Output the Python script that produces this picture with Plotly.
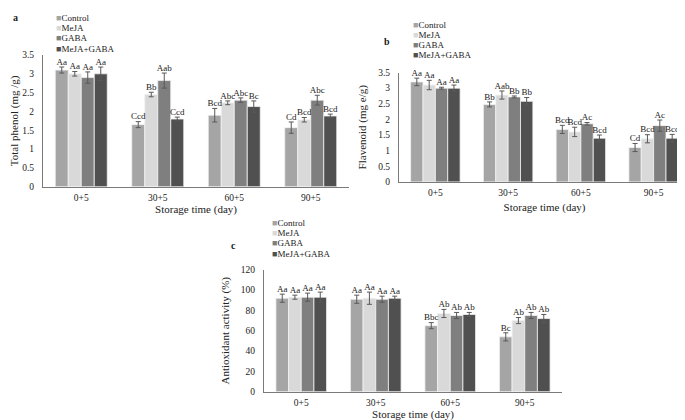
import plotly.graph_objects as go

# storage times and treatments
days = ["0+5", "30+5", "60+5", "90+5"]
treatments = ["Control", "MeJA", "GABA", "MeJA+GABA"]
colors = ["#a5a5a5", "#d9d9d9", "#7f7f7f", "#505050"]

# a - total phenol (mg/g)
phenol = {
    "Control": [3.1, 1.65, 1.9, 1.57],
    "MeJA": [3.0, 2.45, 2.23, 1.78],
    "GABA": [2.9, 2.82, 2.3, 2.3],
    "MeJA+GABA": [3.0, 1.8, 2.13, 1.88],
}
phenol_err = {
    "Control": [0.08, 0.08, 0.18, 0.15],
    "MeJA": [0.06, 0.06, 0.05, 0.06],
    "GABA": [0.15, 0.2, 0.06, 0.13],
    "MeJA+GABA": [0.18, 0.05, 0.15, 0.05],
}
phenol_lbl = {
    "Control": ["Aa", "Ccd", "Bcd", "Cd"],
    "MeJA": ["Aa", "Bb", "Abc", "Bcd"],
    "GABA": ["Aa", "Aab", "Abc", "Abc"],
    "MeJA+GABA": ["Aa", "Ccd", "Bc", "Bcd"],
}

# b - flavonoid (mg e/g)
flav = {
    "Control": [3.2, 2.48, 1.68, 1.1],
    "MeJA": [3.1, 2.78, 1.6, 1.38],
    "GABA": [3.0, 2.72, 1.86, 1.8],
    "MeJA+GABA": [3.0, 2.58, 1.4, 1.4],
}
flav_err = {
    "Control": [0.12, 0.08, 0.13, 0.13],
    "MeJA": [0.15, 0.13, 0.15, 0.13],
    "GABA": [0.03, 0.03, 0.04, 0.18],
    "MeJA+GABA": [0.1, 0.12, 0.1, 0.12],
}
flav_lbl = {
    "Control": ["Aa", "Bb", "Bcd", "Cd"],
    "MeJA": ["Aa", "Aab", "Bcd", "Bcd"],
    "GABA": ["Aa", "Bb", "Ac", "Ac"],
    "MeJA+GABA": ["Aa", "Bb", "Bcd", "Bcd"],
}

# c - antioxidant activity (%)
antiox = {
    "Control": [92, 91, 65, 54],
    "MeJA": [93, 92, 77, 70],
    "GABA": [93, 91, 75, 75],
    "MeJA+GABA": [93, 92, 76, 72],
}
antiox_err = {
    "Control": [4, 4, 3, 4],
    "MeJA": [2, 6, 4, 3],
    "GABA": [4, 3, 3, 3],
    "MeJA+GABA": [5, 2, 2, 4],
}
antiox_lbl = {
    "Control": ["Aa", "Aa", "Bbc", "Bc"],
    "MeJA": ["Aa", "Aa", "Ab", "Ab"],
    "GABA": ["Aa", "Aa", "Ab", "Ab"],
    "MeJA+GABA": ["Aa", "Aa", "Ab", "Ab"],
}

FONT = "Liberation Serif, Times New Roman, serif"
W, H = 685, 420
INK = "#222222"

fig = go.Figure()

panels = [
    ("x", "y", phenol, phenol_err, phenol_lbl),
    ("x2", "y2", flav, flav_err, flav_lbl),
    ("x3", "y3", antiox, antiox_err, antiox_lbl),
]

for xa, ya, vals, errs, lbls in panels:
    for name, col in zip(treatments, colors):
        fig.add_trace(go.Bar(
            x=days, y=vals[name], name=name, xaxis=xa, yaxis=ya,
            offsetgroup=name, cliponaxis=False,
            marker={"color": col, "line": {"color": "#f2f2f2", "width": 0.8}},
            error_y={"type": "data", "array": errs[name], "color": "#595959",
                     "thickness": 1, "width": 2.5},
            showlegend=False, hoverinfo="skip",
        ))
    # significance letters sit just above the error bar
    for name in treatments:
        fig.add_trace(go.Scatter(
            x=days, y=[v + e for v, e in zip(vals[name], errs[name])],
            text=lbls[name], mode="text", textposition="top center",
            textfont={"family": FONT, "size": 9, "color": INK},
            offsetgroup=name, xaxis=xa, yaxis=ya, cliponaxis=False,
            showlegend=False, hoverinfo="skip",
        ))


def px(v):
    return v / W


def py(v):
    return 1 - v / H


tick_font = {"family": FONT, "size": 9.5, "color": INK}
title_font = {"family": FONT, "size": 11, "color": INK}


def x_axis(lo, hi, anchor, standoff):
    return dict(domain=[px(lo), px(hi)], anchor=anchor, showline=True,
                linecolor="#7a7a7a", linewidth=1, showgrid=False, zeroline=False,
                ticks="", ticklabelstandoff=2, tickfont=tick_font,
                title={"text": "Storage time (day)", "font": title_font,
                       "standoff": standoff})


def y_axis(bottom, top, anchor, rng, step, title, standoff):
    return dict(domain=[py(bottom), py(top)], anchor=anchor, range=rng, dtick=step,
                showline=True, linecolor="#7a7a7a", linewidth=1, showgrid=False,
                zeroline=False, ticks="", ticklabelstandoff=6, tickfont=tick_font,
                title={"text": title, "font": title_font, "standoff": standoff})


fig.update_layout(
    width=W, height=H, margin={"l": 0, "r": 0, "t": 0, "b": 0},
    paper_bgcolor="white", plot_bgcolor="white",
    barmode="group", bargap=0.32, bargroupgap=0,
    scattermode="group", scattergap=0.32,
    font={"family": FONT, "color": INK},
    xaxis=x_axis(35, 341, "y", 2),
    yaxis=y_axis(178, 43, "x", [0, 3.5], 0.5, "Total phenol (mg /g)", 2),
    xaxis2=x_axis(391, 682, "y2", 6),
    yaxis2=y_axis(173, 61, "x2", [0, 3.5], 0.5, "Flavenoid (mg e/g)", 9),
    xaxis3=x_axis(256, 554, "y3", 3),
    yaxis3=y_axis(388, 263, "x3", [0, 120], 20, "Antioxidant activity (%)", 8),
)

# panel letters
for letter, lx, ly in [("a", 8, 5), ("b", 379, 29), ("c", 225, 238)]:
    fig.add_annotation(text="<b>%s</b>" % letter, x=px(lx), y=py(ly), xref="paper", yref="paper",
                       showarrow=False, font={"family": FONT, "size": 10, "color": INK},
                       xanchor="center", yanchor="middle")

# legends drawn as text rows (plotly legend rows are too tall for this layout)
for lx, ly0 in [(47, 5), (404, 12), (263, 215)]:
    for i, (name, col) in enumerate(zip(treatments, colors)):
        fig.add_annotation(
            text='<span style="color:%s">■</span>%s' % (col, name),
            x=px(lx), y=py(ly0 + i * 10.5), xref="paper", yref="paper",
            showarrow=False, xanchor="left", yanchor="middle", borderpad=0,
            font={"family": FONT, "size": 9, "color": INK},
        )

fig.write_html("out.html")
